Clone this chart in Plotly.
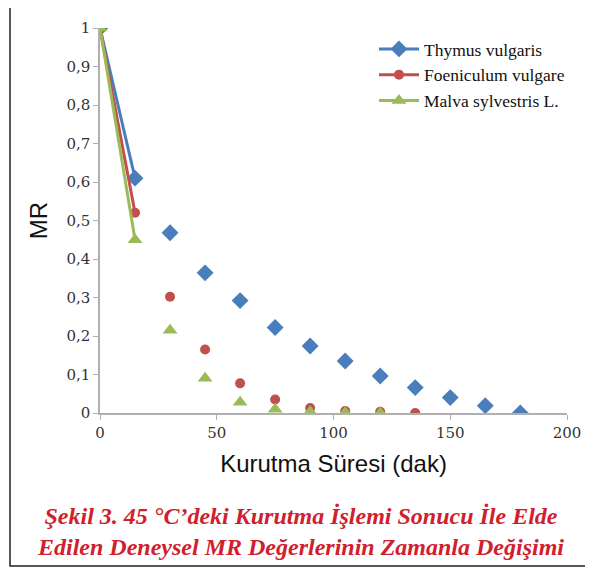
import plotly.graph_objects as go

time_min = [0, 15, 30, 45, 60, 75, 90, 105, 120, 135, 150, 165, 180]
thymus = [1.0, 0.61, 0.468, 0.364, 0.292, 0.222, 0.174, 0.135, 0.096, 0.066, 0.040, 0.019, 0.0]
foeniculum = [1.0, 0.52, 0.302, 0.165, 0.077, 0.035, 0.013, 0.005, 0.003, 0.0]
malva = [1.0, 0.45, 0.215, 0.09, 0.028, 0.01, 0.003, 0.001, 0.0]

names = ["Thymus vulgaris", "Foeniculum vulgare", "Malva sylvestris L."]
colors = ["#4a7ebb", "#c0504d", "#9bbb59"]
symbols = ["diamond", "circle", "triangle-up"]
sizes = [13, 10, 13]
series = [thymus, foeniculum, malva]

fig = go.Figure()
for name, col, sym, sz, vals in zip(names, colors, symbols, sizes, series):
    xs = time_min[:len(vals)]
    fig.add_trace(go.Scatter(x=xs[:2], y=vals[:2], mode="lines+markers", name=name,
                             line=dict(color=col, width=3),
                             marker=dict(color=col, symbol=sym, size=sz)))
    fig.add_trace(go.Scatter(x=xs[2:], y=vals[2:], mode="markers", showlegend=False,
                             marker=dict(color=col, symbol=sym, size=sz)))

OFF = 8  # page offset
W, H = 593, 570
L, T = 100 - OFF, 28 - OFF
pw, ph = 467, 385
R = W - L - pw
B = H - T - ph

def px(x):
    return (x - OFF - L) / pw

def py(y):
    return (H - B - (y - OFF)) / ph

fig.update_layout(
    width=W, height=H,
    margin=dict(l=L, r=R, t=T, b=B),
    paper_bgcolor="white", plot_bgcolor="white",
    separators=",.",
    showlegend=True,
    legend=dict(x=px(374), y=py(31), xanchor="left", yanchor="top",
                font=dict(family="Liberation Serif", size=17.5, color="#111"),
                bgcolor="rgba(0,0,0,0)", tracegroupgap=0, itemwidth=40),
    xaxis=dict(range=[0, 200], tickvals=[0, 50, 100, 150, 200], showgrid=False,
               zeroline=False, showline=True, linecolor="#b0b0b0", linewidth=1.5,
               ticks="outside", ticklen=5, tickcolor="#b0b0b0",
               tickfont=dict(family="DejaVu Serif", size=15, color="#333"),
               title=dict(text="Kurutma Süresi (dak)", standoff=14,
                          font=dict(family="Liberation Sans", size=24, color="#111"))),
    yaxis=dict(range=[0, 1], dtick=0.1, tickformat=".1~f", showgrid=False,
               zeroline=False, showline=True, linecolor="#b0b0b0", linewidth=1.5,
               ticks="outside", ticklen=5, tickcolor="#b0b0b0",
               tickfont=dict(family="DejaVu Serif", size=15, color="#333"),
               title=dict(text="MR", standoff=12,
                          font=dict(family="Liberation Sans", size=24, color="#111"))),
    shapes=[dict(type="rect", xref="paper", yref="paper",
                 x0=px(10), x1=px(590), y0=py(566), y1=py(4),
                 line=dict(color="#222", width=1.5), fillcolor="rgba(0,0,0,0)", layer="below")],
    annotations=[dict(xref="paper", yref="paper", x=px(300), y=py(531),
                      xanchor="center", yanchor="middle", showarrow=False,
                      text="<b><i>Şekil 3. 45 °C’deki Kurutma İşlemi Sonucu İle Elde<br>Edilen Deneysel MR Değerlerinin Zamanla Değişimi</i></b>",
                      font=dict(family="Liberation Serif", size=24, color="#d0202e"),
                      align="center")],
)

fig.write_html("out.html")
